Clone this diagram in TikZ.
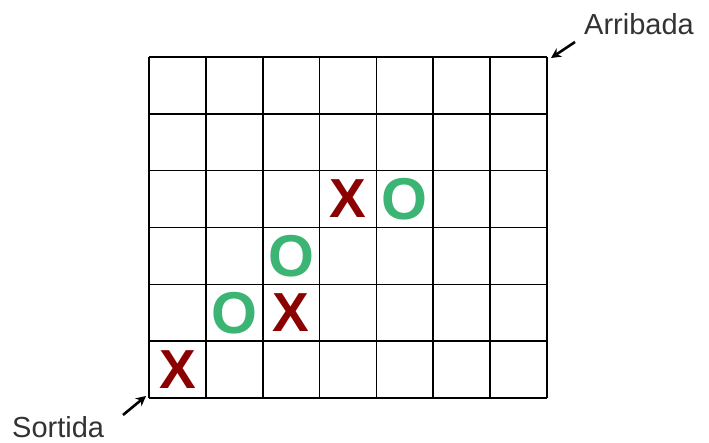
\documentclass[tikz,border=0pt]{standalone}
\usepackage{fontspec}
\setmainfont{Liberation Sans}
\usetikzlibrary{arrows.meta}
\definecolor{xred}{RGB}{139,0,0}
\definecolor{ogreen}{RGB}{60,180,115}
\definecolor{labgray}{RGB}{51,51,51}
\begin{document}
\begin{tikzpicture}[x=1pt,y=1pt,
  gridline/.style={line width=1.6pt,black},
  xmark/.style={text=xred,font=\fontsize{55}{55}\selectfont\bfseries,inner sep=0pt},
  omark/.style={text=ogreen,font=\fontsize{59}{59}\selectfont\bfseries,inner sep=0pt},
  lab/.style={text=labgray,font=\fontsize{29}{29}\selectfont,inner sep=0pt,anchor=base west},
  ptr/.style={line width=2.6pt,black,-{Stealth[length=10pt,width=10pt]}}]
\useasboundingbox (0,0) rectangle (709,443);
\fill[white] (0,0) rectangle (709,443);
\def\cw{56.857}\def\ch{56.833}
\foreach \i in {0,...,7} \draw[gridline] (149+\i*\cw,45) -- (149+\i*\cw,386);
\foreach \j in {0,...,6} \draw[gridline] (149,45+\j*\ch) -- (547,45+\j*\ch);
\node[xmark] (x1) at (149+0.5*\cw,45+0.5*\ch) {X};
\node[omark] (o1) at (149+1.5*\cw,45+1.5*\ch) {O};
\node[xmark] (x2) at (149+2.5*\cw,45+1.5*\ch) {X};
\node[omark] (o2) at (149+2.5*\cw,45+2.5*\ch) {O};
\node[xmark] (x3) at (149+3.5*\cw,45+3.5*\ch) {X};
\node[omark] (o3) at (149+4.5*\cw,45+3.5*\ch) {O};
\node[lab] (arr) at (584,408) {Arribada};
\node[lab] (sor) at (12,5) {Sortida};
\coordinate (arrtail) at (575,401);
\coordinate (arrhead) at (551,385);
\coordinate (sortail) at (123,28);
\coordinate (sorhead) at (146,47);
\draw[ptr] (arrtail) -- (arrhead);
\draw[ptr] (sortail) -- (sorhead);
\end{tikzpicture}
\end{document}
